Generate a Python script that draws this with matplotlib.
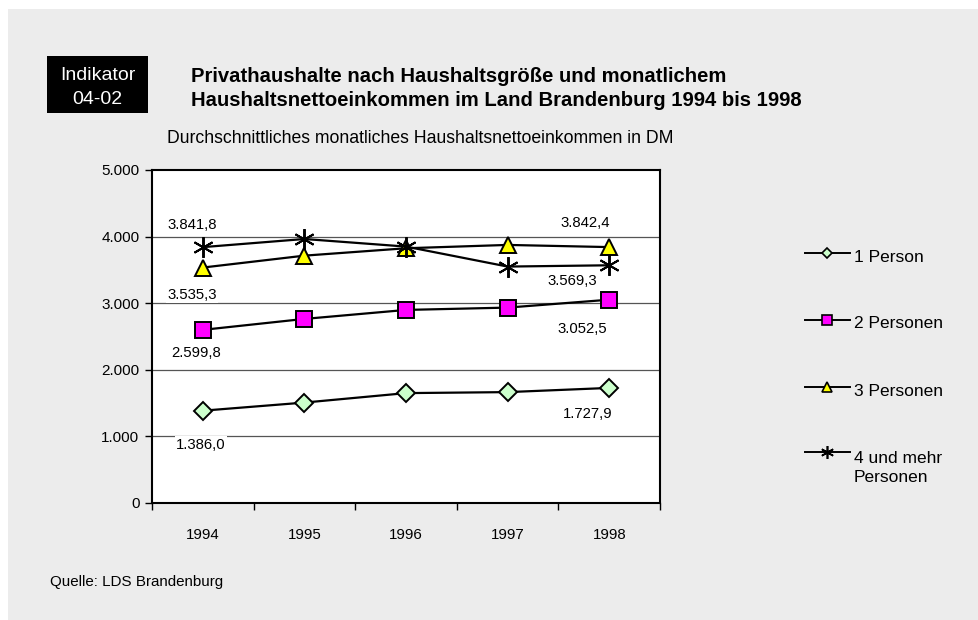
import matplotlib
matplotlib.use("Agg")
import matplotlib.pyplot as plt
from matplotlib.lines import Line2D
from matplotlib.patches import Rectangle

plt.rcParams['font.family'] = ['Liberation Sans', 'DejaVu Sans']

years = ["1994", "1995", "1996", "1997", "1998"]
p1 = [1386.0, 1508.0, 1650.0, 1665.0, 1727.9]
p2 = [2599.8, 2764.0, 2899.0, 2934.0, 3052.5]
p3 = [3535.3, 3714.0, 3825.0, 3875.0, 3842.4]
p4 = [3841.8, 3964.0, 3850.0, 3550.0, 3569.3]
series_names = ["1 Person", "2 Personen", "3 Personen", "4 und mehr\nPersonen"]
yticks = [0, 1000, 2000, 3000, 4000, 5000]
ytick_labels = ["0", "1.000", "2.000", "3.000", "4.000", "5.000"]

W, H = 979, 620
fig = plt.figure(figsize=(W / 100, H / 100), dpi=100)
fig.patch.set_facecolor('white')
fig.add_artist(Rectangle((8 / W, 0), 1, 1 - 9 / H, transform=fig.transFigure,
                         facecolor='#ECECEC', edgecolor='none', zorder=-10))

ax = fig.add_axes([152 / W, 1 - 503 / H, (660 - 152) / W, (503 - 170) / H])
ax.set_facecolor('white')
x = list(range(len(years)))

styles = [
    dict(marker='D', mfc='#CCFFCC', ms=9),
    dict(marker='s', mfc='#FF00FF', ms=11),
    dict(marker='^', mfc='#FFFF00', ms=12),
    dict(marker=(6, 2, 0), mfc='black', ms=15),
]
data = [p1, p2, p3, p4]
for vals, st in zip(data, styles):
    ax.plot(x, vals, color='black', lw=1.6, marker=st['marker'], mfc=st['mfc'],
            mec='black', mew=1.4, ms=st['ms'], zorder=3, clip_on=False)

ax.set_xlim(-0.5, 4.5)
ax.set_ylim(0, 5000)
ax.set_yticks(yticks)
ax.set_yticklabels(ytick_labels)
ax.set_xticks(x)
ax.set_xticklabels(years)
ax.set_xticks([i - 0.5 for i in range(len(years) + 1)], minor=True)
ax.tick_params(axis='x', which='major', length=0, pad=18, labelsize=10.8)
ax.tick_params(axis='x', which='minor', length=5, width=1, direction='out')
ax.tick_params(axis='y', length=5, width=1, direction='out', pad=4, labelsize=11)
for yv in yticks[1:-1]:
    ax.axhline(yv, color='#555555', lw=0.9, zorder=1)
for s in ax.spines.values():
    s.set_linewidth(1.5)
    s.set_color('black')

def lab(i, vals, dx, dy):
    v = vals[i]
    txt = f"{v:,.1f}".replace(",", "X").replace(".", ",").replace("X", ".")
    ax.annotate(txt, (x[i], v), xytext=(dx, -dy), textcoords='offset pixels',
                ha='center', va='center', fontsize=10.7, zorder=4,
                bbox=dict(facecolor='white', edgecolor='none', pad=1.0))

lab(0, p4, -11, -22)
lab(0, p3, -11, 27)
lab(0, p2, -7, 23)
lab(0, p1, -2, 34)
lab(4, p3, -24, -24)
lab(4, p4, -37, 16)
lab(4, p2, -27, 29)
lab(4, p1, -22, 26)

# Legend (manual)
leg_y = [253, 320, 387, 452]
txt_y = [258, 324, 391, 451]
for st, ly, ty, name in zip(styles, leg_y, txt_y, series_names):
    yy = 1 - ly / H
    fig.add_artist(Line2D([805 / W, 850 / W], [yy, yy], transform=fig.transFigure,
                          color='black', lw=1.4))
    fig.add_artist(Line2D([827.5 / W], [yy], transform=fig.transFigure,
                          marker=st['marker'], mfc=st['mfc'], mec='black', mew=1.2,
                          ms=st['ms'] * 0.62, lw=0))
    fig.text(854 / W, 1 - ty / H, name, fontsize=12.5, va='top' if '\n' in name else 'center',
             ha='left', linespacing=1.3)

# Indikator box
fig.add_artist(Rectangle((47 / W, 1 - 113 / H), 101 / W, 57 / H, transform=fig.transFigure,
                         facecolor='black', edgecolor='none'))
fig.text(97.5 / W, 1 - 75 / H, "Indikator", color='white', fontsize=14, ha='center', va='center')
fig.text(97.5 / W, 1 - 100 / H, "04-02", color='white', fontsize=14, ha='center', va='center')

fig.text(191 / W, 1 - 76 / H, "Privathaushalte nach Haushaltsgröße und monatlichem",
         fontsize=14.6, fontweight='bold', ha='left', va='center')
fig.text(191 / W, 1 - 101 / H, "Haushaltsnettoeinkommen im Land Brandenburg 1994 bis 1998",
         fontsize=14.6, fontweight='bold', ha='left', va='center')
fig.text(167 / W, 1 - 139 / H, "Durchschnittliches monatliches Haushaltsnettoeinkommen in DM",
         fontsize=12.7, ha='left', va='center')
fig.text(50 / W, 1 - 582 / H, "Quelle: LDS Brandenburg", fontsize=10.9, ha='left', va='center')

fig.savefig("out.png", dpi=100, facecolor=fig.get_facecolor())
